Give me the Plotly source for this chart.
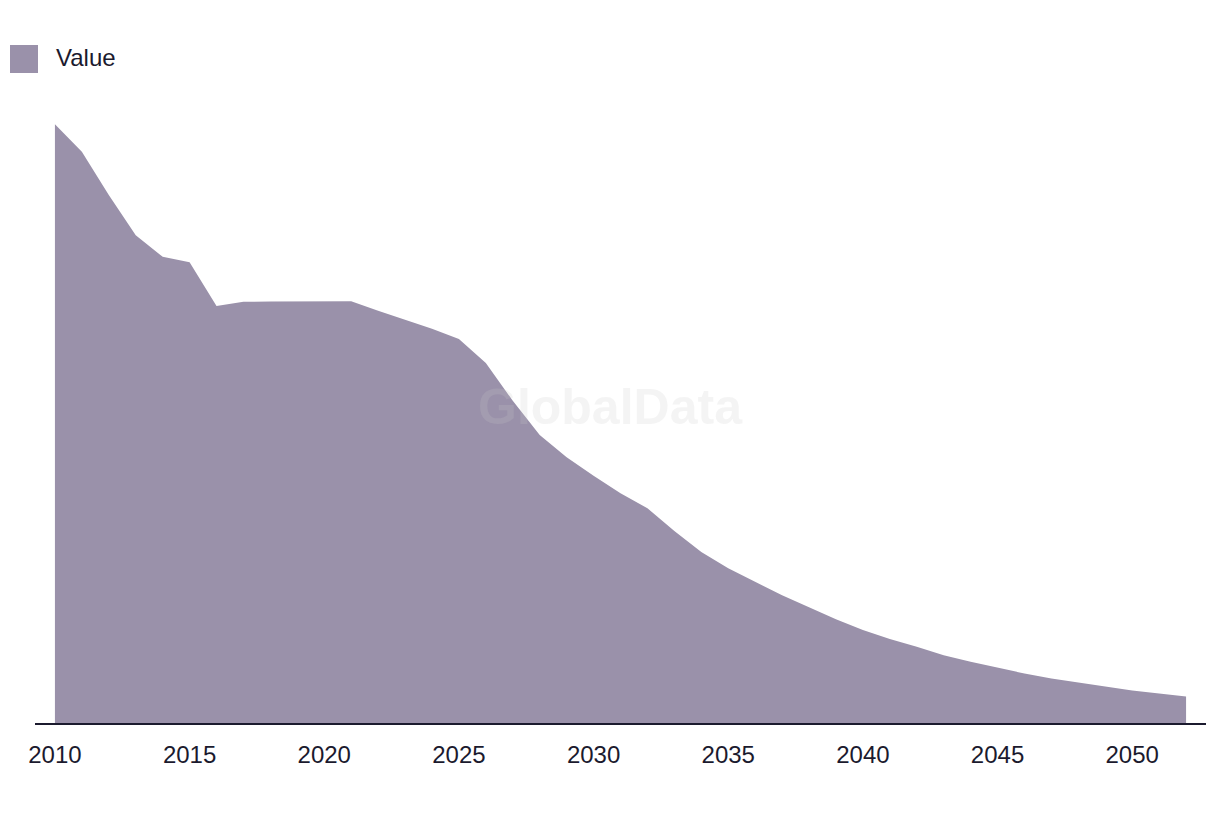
import plotly.graph_objects as go

years = list(range(2010, 2053))
values = [99.8, 95.2, 88.0, 81.3, 77.7, 76.8, 69.5, 70.2, 70.25, 70.25,
          70.3, 70.3, 68.7, 67.2, 65.7, 64.0, 60.0, 53.7, 48.0, 44.3,
          41.2, 38.3, 35.8, 32.0, 28.5, 25.8, 23.5, 21.3, 19.3, 17.3,
          15.5, 14.0, 12.7, 11.3, 10.2, 9.2, 8.25, 7.4, 6.7, 6.0,
          5.4, 4.9, 4.4]
tick_vals = [2010, 2015, 2020, 2025, 2030, 2035, 2040, 2045, 2050]
tick_text = [str(t) for t in tick_vals]
series_name = "Value"

W, H = 1220, 814
ML, MR, MT, MB = 35, 14, 123, 91
FILL = "#9a91aa"
TEXT = "#1b1a2e"
FONT = "Liberation Sans, Arial, sans-serif"

pw = W - ML - MR
ph = H - MT - MB

def px_to_paper_x(px):
    return (px - ML) / pw

def py_to_paper_y(py):
    return (H - MB - py) / ph

fig = go.Figure()
fig.add_trace(go.Scatter(
    x=years, y=values, name=series_name, mode="lines",
    fill="tozeroy", fillcolor=FILL, line=dict(color=FILL, width=0),
    showlegend=False,
))

fig.update_layout(
    width=W, height=H,
    margin=dict(l=ML, r=MR, t=MT, b=MB, pad=0),
    paper_bgcolor="white", plot_bgcolor="white",
    font=dict(family=FONT, size=24, color=TEXT),
    xaxis=dict(range=[2009.26, 2052.74], tickvals=tick_vals, ticktext=tick_text,
               showgrid=False, zeroline=False, showline=True, linecolor=TEXT,
               linewidth=2, ticks="", ticklabelstandoff=9,
               tickfont=dict(size=24, color=TEXT, family=FONT)),
    yaxis=dict(range=[0, 100], visible=False, showgrid=False, zeroline=False),
    shapes=[dict(type="rect", xref="paper", yref="paper",
                 x0=px_to_paper_x(10), x1=px_to_paper_x(38),
                 y0=py_to_paper_y(73), y1=py_to_paper_y(45),
                 fillcolor=FILL, line=dict(width=0))],
    annotations=[
        dict(text=series_name, xref="paper", yref="paper",
             x=px_to_paper_x(54), y=py_to_paper_y(58),
             xanchor="left", yanchor="middle", showarrow=False,
             font=dict(size=24, color=TEXT, family=FONT)),
        dict(text="<b>GlobalData</b>", xref="paper", yref="paper",
             x=px_to_paper_x(610), y=py_to_paper_y(407),
             xanchor="center", yanchor="middle", showarrow=False,
             font=dict(size=50, color="rgba(200,200,200,0.2)", family=FONT)),
    ],
)

fig.write_html("out.html")
